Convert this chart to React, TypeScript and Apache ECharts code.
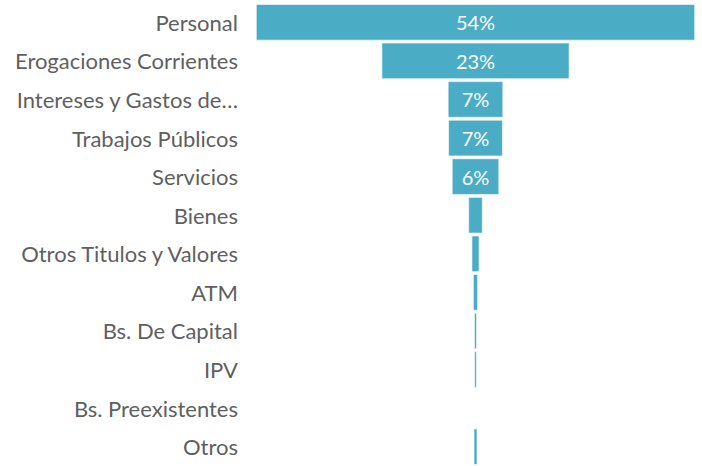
import React, { useEffect, useRef } from "react";
import * as echarts from "echarts";

const categories = [
  "Personal",
  "Erogaciones Corrientes",
  "Intereses y Gastos de…",
  "Trabajos Públicos",
  "Servicios",
  "Bienes",
  "Otros Titulos y Valores",
  "ATM",
  "Bs. De Capital",
  "IPV",
  "Bs. Preexistentes",
  "Otros",
];
const values = [54.0, 23.1, 6.8, 6.7, 5.8, 1.75, 0.95, 0.6, 0.33, 0.3, 0.04, 0.45];

export default function App() {
  const ref = useRef<HTMLDivElement>(null);
  useEffect(() => {
    if (!ref.current) return;
    const chart = echarts.init(ref.current, null, { renderer: "svg" });
    const maxV = Math.max(...values);
    const offsets = values.map((v) => (maxV - v) / 2);
    chart.setOption({
      animation: false,
      grid: { left: 256, right: 7, top: 3, height: 468, containLabel: false },
      xAxis: { type: "value", min: 0, max: maxV, show: false },
      yAxis: {
        type: "category",
        inverse: true,
        data: categories,
        axisLine: { show: false },
        axisTick: { show: false },
        axisLabel: {
          color: "#5f5f5f",
          fontSize: 22,
          fontFamily: "Lato",
          margin: 18,
        },
      },
      series: [
        {
          type: "bar",
          stack: "s",
          data: offsets,
          itemStyle: { color: "transparent" },
          barCategoryGap: "6%",
          silent: true,
        },
        {
          type: "bar",
          stack: "s",
          data: values,
          barCategoryGap: "6%",
          itemStyle: { color: "#4BACC6", borderColor: "#ffffff", borderWidth: 0.6 },
          label: {
            show: true,
            position: "inside",
            color: "#ffffff",
            fontSize: 20,
            fontFamily: "Lato",
            formatter: (p: any) => (p.value >= 5 ? Math.round(p.value) + "%" : ""),
          },
        },
      ],
    });
    return () => chart.dispose();
  }, []);
  return (
    <div
      ref={ref}
      style={{ position: "absolute", left: 0, top: 0, width: 702, height: 466 }}
    />
  );
}
